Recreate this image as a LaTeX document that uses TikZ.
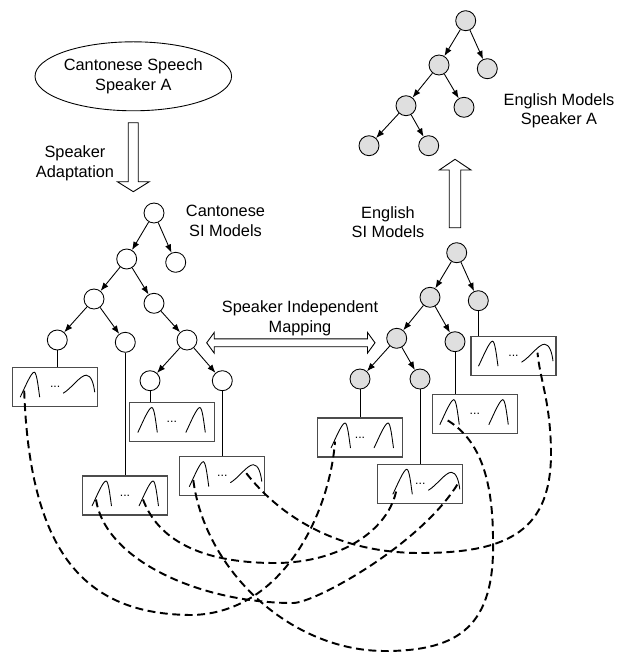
\documentclass[tikz,border=0pt]{standalone}
\usepackage{fontspec}
\setmainfont{Liberation Sans}
\usetikzlibrary{arrows.meta,shapes.geometric}

\tikzset{
  cnode/.style={draw, circle, inner sep=0pt, minimum size=0.4cm, line width=0.5pt},
  enode/.style={cnode, fill=gray!25},
  edge/.style={line width=0.5pt, -{Latex[length=4.7pt,width=3.6pt]}},
  stem/.style={line width=0.5pt},
  gbox/.style={draw=black!70, line width=0.6pt, rectangle, minimum width=1.7cm, minimum height=0.78cm, inner sep=0pt},
  peak/.style={line width=0.5pt},
  dots/.style={font=\fontsize{7}{7}\selectfont, inner sep=0pt},
  link/.style={line width=1.1pt, dash pattern=on 4.5pt off 2.6pt},
  hollow/.style={draw, line width=0.5pt, fill=white},
  lbl/.style={align=center, anchor=north, inner sep=0pt},
  pics/nnbox/.style={code={
    \node[gbox] (-box) at (0,0) {};
    \node[dots] (-dots) at (0,0) {...};
    \begin{scope}[shift={(#1,0)}]
      \draw[peak] (-35,10.5) .. controls (-30,0) and (-24,-14.5) .. (-21,-14.5) .. controls (-18.5,-14.5) and (-17,0) .. (-15.5,10.5);
      \coordinate (-n) at (-31,4);
    \end{scope}
    \draw[peak] (14,10.5) .. controls (19,0) and (25,-14.5) .. (28,-14.5) .. controls (30.5,-14.5) and (32,0) .. (33.5,10.5);
    \coordinate (-m) at (18,4);
  }},
  pics/nwbox/.style={code={
    \node[gbox] (-box) at (0,0) {};
    \node[dots] (-dots) at (0,0) {...};
    \begin{scope}[shift={(#1,0)}]
      \draw[peak] (-35,10.5) .. controls (-30,0) and (-24,-14.5) .. (-21,-14.5) .. controls (-18.5,-14.5) and (-17,0) .. (-15.5,10.5);
      \coordinate (-n) at (-31,4);
    \end{scope}
    \draw[peak] (8,6.5) .. controls (16,2) and (25,-11.5) .. (31,-11.5) .. controls (36,-11.5) and (38.5,-3) .. (39.5,5.5);
    \coordinate (-w) at (24,-3);
    \coordinate (-v) at (37.5,0);
  }}
}

\begin{document}
\begin{tikzpicture}[x=0.02cm, y=-0.02cm, font=\fontsize{9.3}{11.1}\selectfont]
\useasboundingbox (0,0) rectangle (626,652);

% speaker A input and adaptation
\node[draw, ellipse, minimum width=3.74cm, minimum height=1.38cm, inner sep=0pt, align=center, line width=0.5pt] (spk) at (133.3,76.3) {Cantonese Speech\\Speaker A};
\path[hollow] (128.3,122.7) -- (138.3,122.7) -- (138.3,181.7) -- (149.3,181.7) -- (133.3,191.7) -- (117.3,181.7) -- (128.3,181.7) -- cycle;
\node[lbl] (adapt) at (75,145.7) {Speaker\\Adaptation};

% cantonese SI tree
\node[cnode] (c1) at (154,213) {};
\node[cnode] (c2) at (126.7,259) {};
\node[cnode] (c3) at (175.7,262.3) {};
\node[cnode] (c4) at (94,299) {};
\node[cnode] (c5) at (154,303.3) {};
\node[cnode] (c6) at (57.3,340) {};
\node[cnode] (c7) at (125.3,342.3) {};
\node[cnode] (c8) at (187,340) {};
\node[cnode] (c9) at (150,380.7) {};
\node[cnode] (c10) at (222.3,380.7) {};
\node[lbl] (csi) at (225.5,205) {Cantonese\\SI Models};

\path[draw,edge] (c1) -- (c2);
\path[draw,edge] (c1) -- (c3);
\path[draw,edge] (c2) -- (c4);
\path[draw,edge] (c2) -- (c5);
\path[draw,edge] (c4) -- (c6);
\path[draw,edge] (c4) -- (c7);
\path[draw,edge] (c5) -- (c8);
\path[draw,edge] (c8) -- (c9);
\path[draw,edge] (c8) -- (c10);

\pic (b1) at (55.2,386.7) {nwbox=0};
\pic (b2) at (171.8,422) {nnbox=1};
\pic (b3) at (222.3,476.2) {nwbox=2};
\pic (b4) at (125,495.5) {nnbox=2};

\path[draw,stem] (c6) -- (c6 |- b1-box.north);
\path[draw,stem] (c9) -- (c9 |- b2-box.north);
\path[draw,stem] (c10) -- (c10 |- b3-box.north);
\path[draw,stem] (c7) -- (c7 |- b4-box.north);

% english SI tree
\node[enode] (e1) at (456.7,252.7) {};
\node[enode] (e2) at (430,297.3) {};
\node[enode] (e3) at (478.3,300.7) {};
\node[enode] (e4) at (396.7,338.3) {};
\node[enode] (e5) at (455,341.7) {};
\node[enode] (e6) at (360,379) {};
\node[enode] (e7) at (420,379) {};
\node[lbl] (esi) at (388,206) {English\\SI Models};

\path[draw,edge] (e1) -- (e2);
\path[draw,edge] (e1) -- (e3);
\path[draw,edge] (e2) -- (e4);
\path[draw,edge] (e2) -- (e5);
\path[draw,edge] (e4) -- (e6);
\path[draw,edge] (e4) -- (e7);

\pic (r1) at (513.5,355.7) {nwbox=0};
\pic (r2) at (474.8,414.2) {nnbox=0};
\pic (r3) at (360,437.5) {nnbox=6};
\pic (r4) at (420.3,483.8) {nwbox=7.5};

\path[draw,stem] (e3) -- (e3 |- r1-box.north);
\path[draw,stem] (e5) -- (e5 |- r2-box.north);
\path[draw,stem] (e6) -- (e6 |- r3-box.north);
\path[draw,stem] (e7) -- (e7 |- r4-box.north);

% adapted english models
\path[hollow] (449.3,227.7) -- (460.7,227.7) -- (460.7,170) -- (471,170) -- (455,159.3) -- (439.3,170) -- (449.3,170) -- cycle;
\node[enode] (m1) at (465.7,20.7) {};
\node[enode] (m2) at (439,65) {};
\node[enode] (m3) at (487.3,68.7) {};
\node[enode] (m4) at (406,105.7) {};
\node[enode] (m5) at (464,107.3) {};
\node[enode] (m6) at (369,145.7) {};
\node[enode] (m7) at (428.7,145.7) {};
\node[lbl] (ema) at (559,93.3) {English Models\\Speaker A};

\path[draw,edge] (m1) -- (m2);
\path[draw,edge] (m1) -- (m3);
\path[draw,edge] (m2) -- (m4);
\path[draw,edge] (m2) -- (m5);
\path[draw,edge] (m4) -- (m6);
\path[draw,edge] (m4) -- (m7);

% mapping
\path[hollow] (206.7,342.8) -- (214.2,332.5) -- (214.2,338.9) -- (367.5,338.9) -- (367.5,332.5) -- (375,342.8) -- (367.5,353.1) -- (367.5,346.7) -- (214.2,346.7) -- (214.2,353.1) -- cycle;
\node[lbl] (map) at (300,300.7) {Speaker Independent\\Mapping};

% state links
\draw[link] (b1-n) .. controls (30,560) and (90,615) .. (193,615) .. controls (285,612) and (330,510) .. (r3-n);
\draw[link] (b4-n) .. controls (105,560) and (200,603) .. (293,603) .. controls (315,603) and (420,545) .. (r4-v);
\draw[link] (b4-m) .. controls (160,545) and (210,563) .. (275,563) .. controls (340,563) and (390,530) .. (r4-n);
\draw[link] (b3-n) .. controls (205,570) and (290,651) .. (385,651) .. controls (460,651) and (495,625) .. (493,540) .. controls (493,470) and (475,435) .. (r2-n);
\draw[link] (b3-w) .. controls (275,510) and (330,553) .. (420,553) .. controls (510,553) and (552,530) .. (551,450) .. controls (550,400) and (540,380) .. (r1-w);
\end{tikzpicture}
\end{document}
